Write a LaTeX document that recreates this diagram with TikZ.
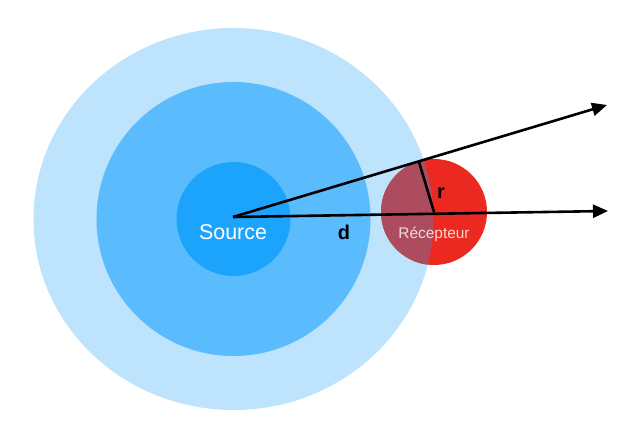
\documentclass[tikz,border=0pt]{standalone}
\usepackage{fontspec}
\setmainfont{Liberation Sans}
\usetikzlibrary{arrows.meta,calc}
\definecolor{zoneOut}{HTML}{BDE3FD}
\definecolor{zoneMid}{HTML}{5ABBFD}
\definecolor{zoneIn}{HTML}{1CA4FD}
\definecolor{recRed}{HTML}{EB2921}
\definecolor{recDark}{HTML}{AD4B5F}
\begin{document}
\begin{tikzpicture}[x=1bp,y=-1bp,ray/.style={line width=2.6bp,-{Triangle[length=15bp,width=13bp]}}]
\useasboundingbox (0,0) rectangle (634,436);
\coordinate (O) at (233.5,219);
\coordinate (S) at (233,217);
\coordinate (C) at (434,212);
\coordinate (T1) at (607,105);
\coordinate (T2) at (608,211);
\coordinate (F) at ($(S)!(C)!(T1)$);
\fill[zoneOut] (O) ellipse[x radius=200,y radius=191];
\fill[zoneMid] (O) circle(137);
\fill[zoneIn] (O) circle(57);
\fill[recRed] (C) circle(53);
\begin{scope}
\clip (O) ellipse[x radius=200,y radius=191];
\fill[recDark] (C) circle(53);
\end{scope}
\draw[ray] (S)--(T1);
\draw[ray] (S)--(T2);
\draw[line width=2.6bp] (F)--(C);
\node[white,font=\fontsize{21.5}{24}\selectfont] (src) at (233,232) {Source};
\node[white,opacity=0.8,font=\fontsize{15.5}{18}\selectfont] (rec) at (434,234) {Récepteur};
\node[font=\fontsize{20}{24}\selectfont\bfseries] (d) at (344,232) {d};
\node[font=\fontsize{20}{24}\selectfont\bfseries] (r) at (441,193) {r};
\end{tikzpicture}
\end{document}
